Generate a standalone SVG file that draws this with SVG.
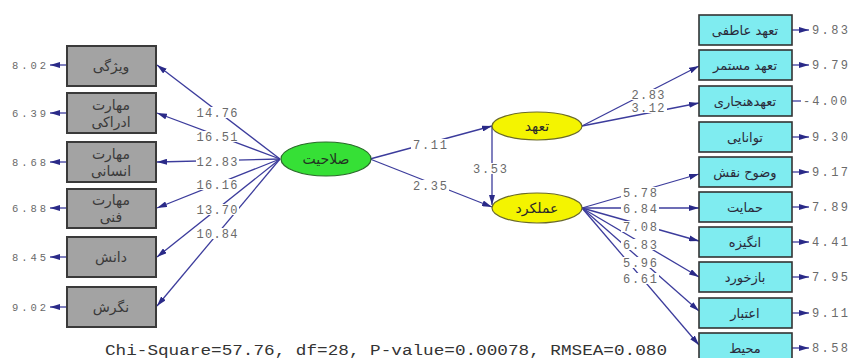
<svg xmlns="http://www.w3.org/2000/svg" width="849" height="358" viewBox="0 0 849 358">
<style>
.lb{fill:#a3a3a3;stroke:#3a3a3a;stroke-width:2}
.rb{fill:#7fecf0;stroke:#333;stroke-width:1.6}
.fa{font-family:"DejaVu Sans",sans-serif;font-size:14px;fill:#3a3a3a;text-anchor:middle}
.ra{font-family:"DejaVu Sans",sans-serif;font-size:13px;fill:#2a2a3a;text-anchor:middle}
.num{font-family:"Liberation Mono","Courier New",monospace;fill:#6a6a6a}
.ln{stroke:#3c3c9c;stroke-width:1.3;fill:none}
.bg{fill:#fff}
</style>
<defs>
<marker id="ah" viewBox="0 0 10 6" refX="10" refY="3" markerWidth="10" markerHeight="6" markerUnits="userSpaceOnUse" orient="auto">
<path d="M0,0 L10,3 L0,6 Z" fill="#2a2a88"/>
</marker>
</defs>

<g id="connectors">
<line class="ln" x1="280" y1="159" x2="157" y2="65" marker-end="url(#ah)"/>
<line class="ln" x1="280" y1="159" x2="157" y2="113" marker-end="url(#ah)"/>
<line class="ln" x1="280" y1="159" x2="157" y2="162" marker-end="url(#ah)"/>
<line class="ln" x1="280" y1="159" x2="157" y2="208" marker-end="url(#ah)"/>
<line class="ln" x1="280" y1="159" x2="157" y2="257" marker-end="url(#ah)"/>
<line class="ln" x1="280" y1="159" x2="157" y2="306" marker-end="url(#ah)"/>
<line class="ln" x1="67" y1="65" x2="50" y2="65" marker-end="url(#ah)"/>
<line class="ln" x1="67" y1="113" x2="50" y2="113" marker-end="url(#ah)"/>
<line class="ln" x1="67" y1="162" x2="50" y2="162" marker-end="url(#ah)"/>
<line class="ln" x1="67" y1="208" x2="50" y2="208" marker-end="url(#ah)"/>
<line class="ln" x1="67" y1="257" x2="50" y2="257" marker-end="url(#ah)"/>
<line class="ln" x1="67" y1="307" x2="50" y2="307" marker-end="url(#ah)"/>
<line class="ln" x1="370" y1="159" x2="492" y2="126" marker-end="url(#ah)"/>
<line class="ln" x1="370" y1="159" x2="492" y2="207" marker-end="url(#ah)"/>
<line class="ln" x1="492" y1="126" x2="492" y2="205" marker-end="url(#ah)"/>
<line class="ln" x1="582" y1="126" x2="699" y2="66" marker-end="url(#ah)"/>
<line class="ln" x1="582" y1="126" x2="699" y2="103" marker-end="url(#ah)"/>
<line class="ln" x1="582" y1="208" x2="699" y2="174" marker-end="url(#ah)"/>
<line class="ln" x1="582" y1="208" x2="699" y2="208" marker-end="url(#ah)"/>
<line class="ln" x1="582" y1="208" x2="699" y2="241" marker-end="url(#ah)"/>
<line class="ln" x1="582" y1="208" x2="699" y2="277" marker-end="url(#ah)"/>
<line class="ln" x1="582" y1="208" x2="699" y2="311" marker-end="url(#ah)"/>
<line class="ln" x1="582" y1="208" x2="699" y2="345" marker-end="url(#ah)"/>
<line class="ln" x1="792" y1="30" x2="809" y2="30" marker-end="url(#ah)"/>
<line class="ln" x1="792" y1="65" x2="809" y2="65" marker-end="url(#ah)"/>
<line class="ln" x1="792" y1="101" x2="801" y2="101"/>
<line class="ln" x1="792" y1="137" x2="809" y2="137" marker-end="url(#ah)"/>
<line class="ln" x1="792" y1="172" x2="809" y2="172" marker-end="url(#ah)"/>
<line class="ln" x1="792" y1="207" x2="809" y2="207" marker-end="url(#ah)"/>
<line class="ln" x1="792" y1="242" x2="809" y2="242" marker-end="url(#ah)"/>
<line class="ln" x1="792" y1="277" x2="809" y2="277" marker-end="url(#ah)"/>
<line class="ln" x1="792" y1="313" x2="809" y2="313" marker-end="url(#ah)"/>
<line class="ln" x1="792" y1="348" x2="809" y2="348" marker-end="url(#ah)"/>
</g>

<g id="path-labels" class="num" font-size="12">
<rect class="bg" x="196" y="107" width="43" height="11"/><text x="217" y="116.5" text-anchor="middle" textLength="41">14.76</text>
<rect class="bg" x="196" y="131" width="43" height="11"/><text x="217" y="140.5" text-anchor="middle" textLength="41">16.51</text>
<rect class="bg" x="196" y="156" width="43" height="11"/><text x="217" y="165.5" text-anchor="middle" textLength="41">12.83</text>
<rect class="bg" x="196" y="179" width="43" height="11"/><text x="217" y="188.5" text-anchor="middle" textLength="41">16.16</text>
<rect class="bg" x="196" y="204" width="43" height="11"/><text x="217" y="213.5" text-anchor="middle" textLength="41">13.70</text>
<rect class="bg" x="196" y="228" width="43" height="11"/><text x="217" y="237.5" text-anchor="middle" textLength="41">10.84</text>
<rect class="bg" x="411" y="139" width="38" height="11"/><text x="430" y="148.5" text-anchor="middle" textLength="34">7.11</text>
<rect class="bg" x="411" y="180" width="38" height="11"/><text x="430" y="189.5" text-anchor="middle" textLength="34">2.35</text>
<rect class="bg" x="472" y="163" width="37" height="11"/><text x="490" y="172.5" text-anchor="middle" textLength="34">3.53</text>
<rect class="bg" x="630" y="89" width="37" height="11"/><text x="648" y="98.5" text-anchor="middle" textLength="33">2.83</text>
<rect class="bg" x="630" y="102" width="37" height="11"/><text x="648" y="111.5" text-anchor="middle" textLength="33">3.12</text>
<rect class="bg" x="621" y="187" width="38" height="11"/><text x="640" y="196.5" text-anchor="middle" textLength="34">5.78</text>
<rect class="bg" x="621" y="203" width="38" height="11"/><text x="640" y="212.5" text-anchor="middle" textLength="34">6.84</text>
<rect class="bg" x="621" y="221" width="38" height="11"/><text x="640" y="230.5" text-anchor="middle" textLength="34">7.08</text>
<rect class="bg" x="621" y="239" width="38" height="11"/><text x="640" y="248.5" text-anchor="middle" textLength="34">6.83</text>
<rect class="bg" x="621" y="257" width="38" height="11"/><text x="640" y="266.5" text-anchor="middle" textLength="34">5.96</text>
<rect class="bg" x="621" y="273" width="38" height="11"/><text x="640" y="282.5" text-anchor="middle" textLength="34">6.61</text>
</g>

<g id="left-errors" class="num" font-size="10.5" text-anchor="end">
<text x="46" y="69" textLength="34">8.02</text>
<text x="46" y="117" textLength="34">6.39</text>
<text x="46" y="166" textLength="34">8.68</text>
<text x="46" y="212" textLength="34">6.88</text>
<text x="46" y="261" textLength="34">8.45</text>
<text x="46" y="311" textLength="34">9.02</text>
</g>

<g id="right-errors" class="num" font-size="12">
<text x="812" y="34" textLength="36">9.83</text>
<text x="812" y="69" textLength="36">9.79</text>
<text x="803" y="105" textLength="44">-4.00</text>
<text x="812" y="141" textLength="36">9.30</text>
<text x="812" y="176" textLength="36">9.17</text>
<text x="812" y="211" textLength="36">7.89</text>
<text x="812" y="246" textLength="36">4.41</text>
<text x="812" y="281" textLength="36">7.95</text>
<text x="812" y="317" textLength="36">9.11</text>
<text x="812" y="352" textLength="36">8.58</text>
</g>

<g id="n-vizhegi"><rect class="lb" x="67" y="46" width="89" height="40"/><text class="fa" x="111" y="71">ویژگی</text></g>
<g id="n-edraki"><rect class="lb" x="67" y="93" width="89" height="40"/><text class="fa" x="111" y="110">مهارت</text><text class="fa" x="111" y="127">ادراکی</text></g>
<g id="n-ensani"><rect class="lb" x="67" y="142" width="89" height="40"/><text class="fa" x="111" y="159">مهارت</text><text class="fa" x="111" y="176">انسانی</text></g>
<g id="n-fanni"><rect class="lb" x="67" y="189" width="89" height="39"/><text class="fa" x="111" y="205">مهارت</text><text class="fa" x="111" y="222">فنی</text></g>
<g id="n-danesh"><rect class="lb" x="67" y="237" width="89" height="40"/><text class="fa" x="111" y="262">دانش</text></g>
<g id="n-negaresh"><rect class="lb" x="67" y="287" width="89" height="40"/><text class="fa" x="111" y="312">نگرش</text></g>

<g id="n-salahiat"><ellipse cx="326" cy="159" rx="45" ry="17" fill="#36e036" stroke="#2a6a2a" stroke-width="1.2"/><text class="fa" x="326" y="164" style="fill:#223322">صلاحیت</text></g>
<g id="n-taahod"><ellipse cx="537" cy="126" rx="45" ry="14" fill="#f4f400" stroke="#6a6a2a" stroke-width="1.2"/><text class="fa" x="537" y="131" style="fill:#2a2a2a">تعهد</text></g>
<g id="n-amalkard"><ellipse cx="537" cy="208" rx="45" ry="15" fill="#f4f400" stroke="#6a6a2a" stroke-width="1.2"/><text class="fa" x="537" y="213" style="fill:#2a2a2a">عملکرد</text></g>

<g id="n-atefi"><rect class="rb" x="699" y="15" width="93" height="30"/><text class="ra" x="745" y="35">تعهد عاطفی</text></g>
<g id="n-mostamar"><rect class="rb" x="699" y="50" width="93" height="30"/><text class="ra" x="745" y="70">تعهد مستمر</text></g>
<g id="n-hanjari"><rect class="rb" x="699" y="86" width="93" height="30"/><text class="ra" x="745" y="106">تعهدهنجاری</text></g>
<g id="n-tavanaei"><rect class="rb" x="699" y="122" width="93" height="30"/><text class="ra" x="745" y="142">توانایی</text></g>
<g id="n-vozooh"><rect class="rb" x="699" y="157" width="93" height="30"/><text class="ra" x="745" y="177">وضوح نقش</text></g>
<g id="n-hemayat"><rect class="rb" x="699" y="192" width="93" height="30"/><text class="ra" x="745" y="212">حمایت</text></g>
<g id="n-angizeh"><rect class="rb" x="699" y="227" width="93" height="30"/><text class="ra" x="745" y="247">انگیزه</text></g>
<g id="n-bazkhord"><rect class="rb" x="699" y="262" width="93" height="30"/><text class="ra" x="745" y="282">بازخورد</text></g>
<g id="n-etebar"><rect class="rb" x="699" y="298" width="93" height="30"/><text class="ra" x="745" y="318">اعتبار</text></g>
<g id="n-mohit"><rect class="rb" x="699" y="333" width="93" height="30"/><text class="ra" x="745" y="353">محیط</text></g>

<text x="105" y="355" font-family="Liberation Mono,'Courier New',monospace" font-size="14" fill="#333" textLength="562" lengthAdjust="spacingAndGlyphs">Chi-Square=57.76, df=28, P-value=0.00078, RMSEA=0.080</text>
</svg>
